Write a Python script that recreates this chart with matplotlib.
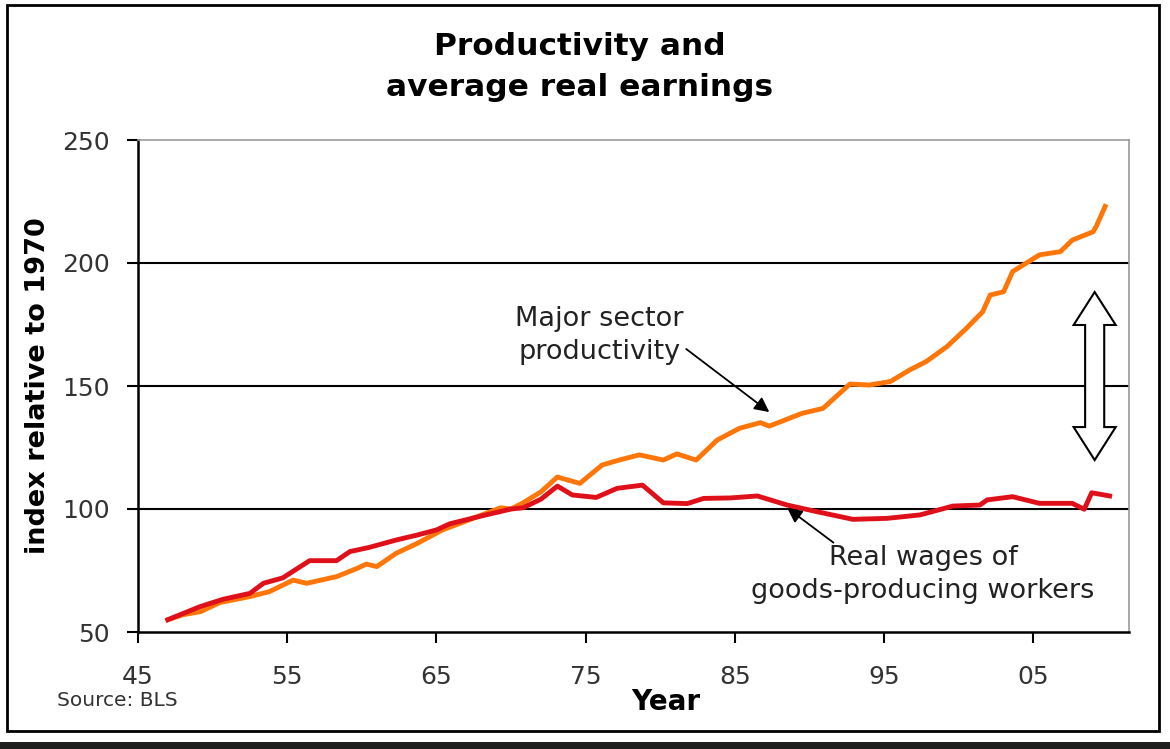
import matplotlib
matplotlib.use("Agg")
import matplotlib.pyplot as plt
from matplotlib.patches import Rectangle, Polygon

# values (index, 1970 = 100)
prod_years = [1947.0, 1948.0, 1949.2, 1950.5, 1952.5, 1953.8, 1955.4, 1956.3, 1958.3, 1959.7,
              1960.3, 1961.0, 1962.3, 1963.7, 1965.4, 1966.5, 1968.0, 1969.3, 1970.0, 1970.8,
              1972.0, 1973.1, 1974.6, 1976.1, 1977.3, 1978.6, 1980.2, 1981.1, 1982.4, 1983.8,
              1985.3, 1986.7, 1987.3, 1989.5, 1990.9, 1992.7, 1994.0, 1995.4, 1996.7, 1997.8,
              1999.2, 2000.5, 2001.6, 2002.1, 2003.0, 2003.6, 2004.5, 2005.4, 2006.8, 2007.6,
              2009.0, 2009.2, 2009.8]
prod_vals = [55, 57, 58.3, 62, 64.4, 66.4, 71.1, 69.8, 72.5, 75.9,
             77.6, 76.6, 82, 86, 91.5, 94, 97.5, 100.5, 100, 102.5,
             107, 113, 110.4, 117.9, 120, 122, 119.9, 122.4, 119.9, 128,
             132.8, 135.1, 133.7, 138.9, 140.9, 150.8, 150.4, 151.8, 156.5, 159.9,
             166, 173.4, 180.2, 187, 188.3, 196.5, 199.9, 203.3, 204.6, 209.3,
             212.7, 214.8, 223]

wage_years = [1947.0, 1949.15, 1950.7, 1952.5, 1953.4, 1954.7, 1956.5, 1958.3, 1959.2, 1960.5,
              1962.3, 1963.7, 1965.0, 1965.9, 1967.9, 1970.0, 1970.8, 1972.0, 1973.1, 1974.1,
              1975.7, 1977.1, 1978.8, 1980.2, 1981.8, 1982.9, 1984.7, 1986.5, 1988.5, 1990.5,
              1992.9, 1995.2, 1997.4, 1999.6, 2001.4, 2001.9, 2003.6, 2005.4, 2007.6, 2008.4,
              2008.9, 2010.1]
wage_vals = [55, 60.3, 63.3, 65.7, 69.8, 72, 79, 79, 82.7, 84.4,
             87.4, 89.4, 91.5, 94, 97, 100, 100.5, 104, 109.3, 105.7,
             104.7, 108.4, 109.7, 102.5, 102.2, 104.3, 104.5, 105.3, 101.6, 98.9,
             95.8, 96.2, 97.6, 101.2, 101.6, 103.7, 105, 102.3, 102.3, 99.9,
             106.6, 105.3]

x_ticks = [1945, 1955, 1965, 1975, 1985, 1995, 2005]
x_tick_labels = ["45", "55", "65", "75", "85", "95", "05"]
y_ticks = [50, 100, 150, 200, 250]

fig = plt.figure(figsize=(11.7, 7.49), dpi=100)
fig.patch.set_facecolor("white")

# outer frame and dark strip at the bottom
fig.patches.append(Rectangle((7 / 1170, 18 / 749), 1152 / 1170, 726 / 749, transform=fig.transFigure,
                             fill=False, edgecolor="black", linewidth=2))
fig.patches.append(Rectangle((0, 0), 1, 7 / 749, transform=fig.transFigure,
                             facecolor="#1e1e1e", edgecolor="none"))

ax = fig.add_axes([138 / 1170, 117 / 749, 991 / 1170, 492 / 749])
ax.set_xlim(1945, 2011.4)
ax.set_ylim(50, 250)

for v in [100, 150, 200]:
    ax.axhline(v, color="black", linewidth=1.5, zorder=1)

ax.plot(prod_years, prod_vals, color="#ff7608", linewidth=3.5, solid_joinstyle="round", zorder=3)
ax.plot(wage_years, wage_vals, color="#e0101a", linewidth=3.5, solid_joinstyle="round", zorder=3)

ax.set_xticks(x_ticks)
ax.set_xticklabels(x_tick_labels)
ax.set_yticks(y_ticks)
ax.tick_params(axis="both", direction="out", length=8, width=1.5, colors="black",
               labelcolor="#333333", labelsize=18)
ax.tick_params(axis="x", pad=16)
ax.tick_params(axis="y", pad=12)

for s in ["left", "bottom"]:
    ax.spines[s].set_color("black")
    ax.spines[s].set_linewidth(1.8)
for s in ["top", "right"]:
    ax.spines[s].set_color("#999999")
    ax.spines[s].set_linewidth(1.2)

fig.text(580 / 1170, 1 - 67 / 749, "Productivity and\naverage real earnings", ha="center", va="center",
         fontsize=22.5, fontweight="bold", linespacing=1.55)
fig.text(38 / 1170, 1 - 386 / 749, "index relative to 1970", rotation=90, ha="center", va="center",
         fontsize=19.5, fontweight="bold")
fig.text(666 / 1170, 1 - 702 / 749, "Year", ha="center", va="center", fontsize=20, fontweight="bold")
fig.text(57 / 1170, 1 - 701 / 749, "Source: BLS", ha="left", va="center", fontsize=14.5, color="#333333")

ax.annotate("Major sector\nproductivity", xy=(1987.3, 139.4), xytext=(1975.9, 170.7),
            ha="center", va="center", fontsize=19.5, color="#222222", linespacing=1.35,
            arrowprops=dict(arrowstyle="-|>", color="black", lw=1.3, mutation_scale=22,
                            shrinkA=0, shrinkB=0, relpos=(1.0, 0.3)))
ax.annotate("Real wages of\ngoods-producing workers", xy=(1988.5, 100.4), xytext=(1997.6, 73.2),
            ha="center", va="center", fontsize=19.5, color="#222222", linespacing=1.35,
            arrowprops=dict(arrowstyle="-|>", color="black", lw=1.3, mutation_scale=22,
                            shrinkA=0, shrinkB=0, relpos=(0.25, 1.0)))

# hollow double-headed arrow showing the gap
cx, top, bot = 2009.1, 188.2, 119.9
hw, sw, hl = 1.41, 0.64, 13.4
pts = [(cx, top), (cx + hw, top - hl), (cx + sw, top - hl), (cx + sw, bot + hl), (cx + hw, bot + hl),
       (cx, bot), (cx - hw, bot + hl), (cx - sw, bot + hl), (cx - sw, top - hl), (cx - hw, top - hl)]
ax.add_patch(Polygon(pts, closed=True, facecolor="white", edgecolor="black", linewidth=1.5, zorder=4))

fig.savefig("out.png", dpi=100)
